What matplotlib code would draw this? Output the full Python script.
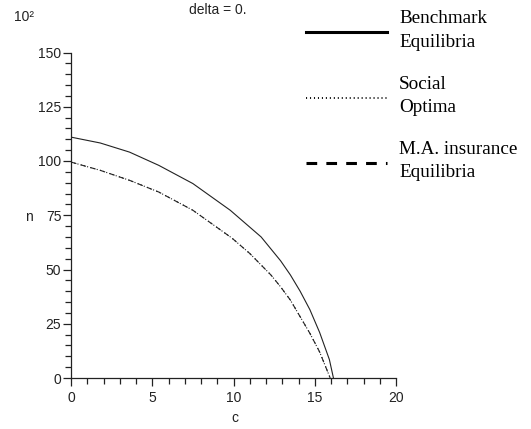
import matplotlib
matplotlib.use("Agg")
import matplotlib.pyplot as plt
from matplotlib.lines import Line2D
from matplotlib.ticker import MultipleLocator

# ---- data ----
bench_c = [0, 1.8, 3.6, 5.4, 7.5, 9.8, 11.7, 12.9, 13.5, 14.1, 14.7, 15.3, 15.9, 16.15]
bench_n = [111, 108.3, 104.1, 98, 89.6, 77.3, 65, 54, 47.5, 40, 31.5, 21, 8.5, 0]

social_c = [0, 1.8, 3.6, 5.4, 7.5, 9.9, 11.0, 12.3, 12.9, 13.5, 14.7, 15.3, 15.95]
social_n = [99.5, 95.7, 91.1, 85.7, 77.3, 64.5, 57.4, 47.5, 42, 35.9, 20.6, 12, 0]

ma_c = [0, 1.8, 3.6, 5.4, 7.5, 9.9, 11.0, 12.3, 12.9, 13.5, 14.7, 15.3, 15.95]
ma_n = [99.5, 95.7, 91.1, 85.7, 77.3, 64.5, 57.4, 47.5, 42, 35.9, 20.6, 12, 0]

x_ticks = [0, 5, 10, 15, 20]
y_ticks = [0, 25, 50, 75, 100, 125, 150]
legend_labels = ["Benchmark\nEquilibria", "Social\nOptima", "M.A. insurance\nEquilibria"]
title = "delta = 0."

W, H = 531, 429
fig = plt.figure(figsize=(W / 100, H / 100), dpi=100)
sans = "Liberation Sans"
serif = "Liberation Serif"

ax = fig.add_axes([71 / W, 1 - 378 / H, 325 / W, (378 - 52.5) / H])
ax.plot(bench_c, bench_n, color="#222222", lw=0.8, ls="-")
ax.plot(social_c, social_n, color="#222222", lw=0.8, ls=(0, (1, 2)))
ax.plot(ma_c, ma_n, color="#222222", lw=0.8, ls=(0, (5, 4)))

ax.set_xlim(0, 20)
ax.set_ylim(0, 150)
for s in ("top", "right"):
    ax.spines[s].set_visible(False)
for s in ("left", "bottom"):
    ax.spines[s].set_linewidth(0.9)
    ax.spines[s].set_color("#222222")
ax.set_xticks(x_ticks)
ax.set_yticks(y_ticks)
ax.xaxis.set_minor_locator(MultipleLocator(1))
ax.yaxis.set_minor_locator(MultipleLocator(5))
ax.tick_params(axis="both", which="major", length=6, width=0.9, color="#222222",
               labelsize=10, labelcolor="#222222")
ax.tick_params(axis="both", which="minor", length=4, width=0.9, color="#222222")
ax.tick_params(axis="y", which="major", pad=1)
ax.tick_params(axis="x", which="major", pad=3.5)
ax.set_xticklabels([str(v) for v in x_ticks])
ax.set_yticklabels([str(v) for v in y_ticks])
for lab in ax.get_xticklabels() + ax.get_yticklabels():
    lab.set_fontfamily(sans)

fig.text(235 / W, 1 - 418 / H, "c", family=sans, fontsize=10, color="#222222",
         ha="center", va="center")
fig.text(29 / W, 1 - 217 / H, "n", family=sans, fontsize=10, color="#222222",
         ha="center", va="center")
fig.text(14 / W, 1 - 17 / H, "10²", family=sans, fontsize=10, color="#222222",
         ha="left", va="center")
fig.text(217.5 / W, 1 - 10 / H, title, family=sans, fontsize=10, color="#222222",
         ha="center", va="center")

# legend
styles = [dict(ls="-", lw=2.2), dict(ls=(0, (0.6, 1.6)), lw=1.3), dict(ls=(0, (3.5, 3)), lw=2.2)]
line_y = [32.3, 98.3, 163]
text_y = [30.5, 96, 161]
for lab, st, ly, ty in zip(legend_labels, styles, line_y, text_y):
    fig.add_artist(Line2D([306 / W, 387 / W], [1 - ly / H, 1 - ly / H],
                          transform=fig.transFigure, color="black", **st))
    fig.text(399 / W, 1 - ty / H, lab, family=serif, fontsize=13.8, color="black",
             ha="left", va="center", linespacing=1.5)

fig.savefig("out.png", dpi=100)
